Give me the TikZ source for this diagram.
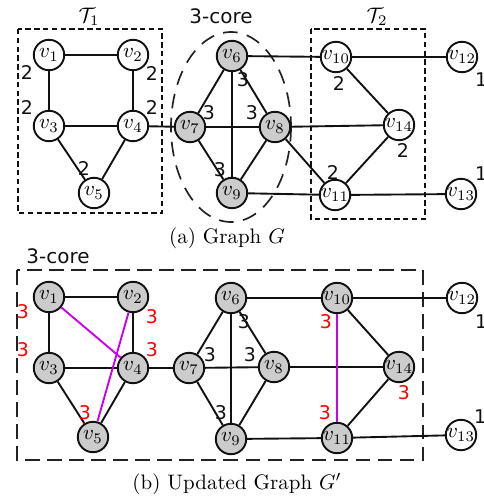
\documentclass[tikz,border=0pt]{standalone}
\usepackage{fontspec}
\newfontfamily\labelfont{DejaVu Sans}
\usetikzlibrary{shapes.geometric}
\definecolor{Ink}{HTML}{111111}
\definecolor{CoreFill}{HTML}{CCCCCC}
\definecolor{NewEdge}{HTML}{CC00EE}
\definecolor{NewDeg}{HTML}{FF0000}
\definecolor{BoxLine}{HTML}{222222}
\tikzset{
  vtx/.style={circle,draw=Ink,fill=white,line width=0.9pt,minimum size=14.5pt,inner sep=0pt,font=\normalsize},
  corevtx/.style={vtx,fill=CoreFill},
  edge/.style={draw=Ink,line width=0.9pt},
  newedge/.style={draw=NewEdge,line width=0.9pt},
  deg/.style={font=\labelfont\fontsize{9}{10}\selectfont,text=Ink,inner sep=0pt},
  newdeg/.style={deg,text=NewDeg},
  treebox/.style={draw=Ink,line width=0.55pt,dash pattern=on 2.6pt off 1.6pt},
  corebox/.style={draw=BoxLine,line width=1pt,dash pattern=on 7pt off 3.5pt},
  coreell/.style={draw=BoxLine,line width=0.8pt,dash pattern=on 7pt off 4.5pt},
  boxlabel/.style={font=\labelfont\fontsize{9.5}{11}\selectfont,text=Ink,inner sep=0pt}
}
\begin{document}
\begin{tikzpicture}[x=0.01675cm,y=-0.01675cm]
  \useasboundingbox (0,0) rectangle (484,498);
  % (a) graph G
  \draw[coreell] (231,127) ellipse [x radius=60,y radius=95];
  \draw[treebox] (18,29) rectangle (162,213);
  \draw[treebox] (311,29) rectangle (425,219);
  \node[boxlabel] (corea) at (221,16) {3-core};
  \node (tonelabel) at (89,17) {$\mathcal{T}_1$};
  \node (ttwolabel) at (377,17) {$\mathcal{T}_2$};
  \node[vtx] (a1) at (49,55) {$v_{1}$};
  \node[vtx] (a2) at (133,55) {$v_{2}$};
  \node[vtx] (a3) at (49,126) {$v_{3}$};
  \node[vtx] (a4) at (133,126) {$v_{4}$};
  \node[vtx] (a5) at (94,193) {$v_{5}$};
  \node[corevtx] (a6) at (232,56) {$v_{6}$};
  \node[corevtx] (a7) at (190,127) {$v_{7}$};
  \node[corevtx] (a8) at (275,127) {$v_{8}$};
  \node[corevtx] (a9) at (232,193) {$v_{9}$};
  \node[vtx] (a10) at (336,57) {$v_{10}$};
  \node[vtx] (a11) at (335,195) {$v_{11}$};
  \node[vtx] (a12) at (462,57) {$v_{12}$};
  \node[vtx] (a13) at (461,194) {$v_{13}$};
  \node[vtx] (a14) at (399,125) {$v_{14}$};
  \draw[edge] (a1) -- (a2);
  \draw[edge] (a1) -- (a3);
  \draw[edge] (a2) -- (a4);
  \draw[edge] (a3) -- (a4);
  \draw[edge] (a3) -- (a5);
  \draw[edge] (a4) -- (a5);
  \draw[edge] (a4) -- (a7);
  \draw[edge] (a6) -- (a7);
  \draw[edge] (a6) -- (a9);
  \draw[edge] (a6) -- (a8);
  \draw[edge] (a6) -- (a10);
  \draw[edge] (a7) -- (a8);
  \draw[edge] (a7) -- (a9);
  \draw[edge] (a8) -- (a9);
  \draw[edge] (a8) -- (a14);
  \draw[edge] (a8) -- (a11);
  \draw[edge] (a9) -- (a11);
  \draw[edge] (a10) -- (a12);
  \draw[edge] (a10) -- (a14);
  \draw[edge] (a11) -- (a14);
  \draw[edge] (a11) -- (a13);
  \node[deg] (da1) at (27,72) {2};
  \node[deg] (da3) at (27,107) {2};
  \node[deg] (da2) at (152,73) {2};
  \node[deg] (da4) at (152,107) {2};
  \node[deg] (da5) at (84,168) {2};
  \node[deg] (da6) at (243,80) {3};
  \node[deg] (da7) at (209,113) {3};
  \node[deg] (da8) at (252,113) {3};
  \node[deg] (da9) at (220,170) {3};
  \node[deg] (da10) at (339,83) {2};
  \node[deg] (da14) at (403,150) {2};
  \node[deg] (da11) at (333,172) {2};
  \node[deg] (da12) at (481,80) {1};
  \node[deg] (da13) at (481,174) {1};
  \node (capa) at (227,238) {(a) Graph $G$};
  % (b) updated graph G'
  \draw[corebox] (17,270) rectangle (423,460);
  \node[boxlabel] (coreb) at (58,256) {3-core};
  \node[corevtx] (b1) at (49,297) {$v_{1}$};
  \node[corevtx] (b2) at (133,297) {$v_{2}$};
  \node[corevtx] (b3) at (49,368) {$v_{3}$};
  \node[corevtx] (b4) at (133,368) {$v_{4}$};
  \node[corevtx] (b5) at (93,437) {$v_{5}$};
  \node[corevtx] (b6) at (231,298) {$v_{6}$};
  \node[corevtx] (b7) at (189,368) {$v_{7}$};
  \node[corevtx] (b8) at (274,367) {$v_{8}$};
  \node[corevtx] (b9) at (231,439) {$v_{9}$};
  \node[corevtx] (b10) at (337,298) {$v_{10}$};
  \node[corevtx] (b11) at (337,438) {$v_{11}$};
  \node[vtx] (b12) at (462,298) {$v_{12}$};
  \node[vtx] (b13) at (461,435) {$v_{13}$};
  \node[corevtx] (b14) at (399,367) {$v_{14}$};
  \draw[edge] (b1) -- (b2);
  \draw[edge] (b1) -- (b3);
  \draw[edge] (b2) -- (b4);
  \draw[edge] (b3) -- (b4);
  \draw[edge] (b3) -- (b5);
  \draw[edge] (b4) -- (b5);
  \draw[edge] (b4) -- (b7);
  \draw[edge] (b6) -- (b7);
  \draw[edge] (b6) -- (b9);
  \draw[edge] (b6) -- (b8);
  \draw[edge] (b6) -- (b10);
  \draw[edge] (b7) -- (b8);
  \draw[edge] (b7) -- (b9);
  \draw[edge] (b8) -- (b9);
  \draw[edge] (b8) -- (b14);
  \draw[edge] (b9) -- (b11);
  \draw[edge] (b10) -- (b12);
  \draw[edge] (b10) -- (b14);
  \draw[edge] (b11) -- (b14);
  \draw[edge] (b11) -- (b13);
  \draw[newedge] (b1) -- (b4);
  \draw[newedge] (b2) -- (b5);
  \draw[newedge] (b10) -- (b11);
  \node[newdeg] (db1) at (23,312) {3};
  \node[newdeg] (db3) at (23,350) {3};
  \node[newdeg] (db2) at (152,317) {3};
  \node[newdeg] (db4) at (152,350) {3};
  \node[newdeg] (db5) at (85,413) {3};
  \node[deg] (db6) at (244,322) {3};
  \node[deg] (db7) at (210,355) {3};
  \node[deg] (db8) at (250,355) {3};
  \node[deg] (db9) at (221,413) {3};
  \node[newdeg] (db10) at (326,322) {3};
  \node[newdeg] (db11) at (325,413) {3};
  \node[newdeg] (db14) at (404,393) {3};
  \node[deg] (db12) at (481,322) {1};
  \node[deg] (db13) at (480,417) {1};
  \node (capb) at (237,484) {(b) Updated Graph $G'$};
\end{tikzpicture}
\end{document}
